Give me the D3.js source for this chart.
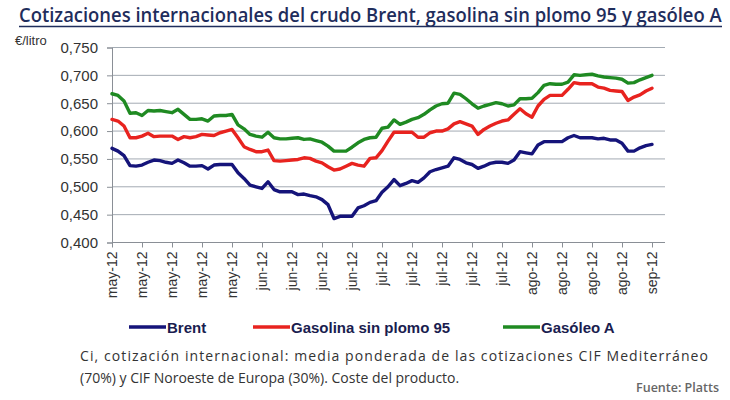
<!DOCTYPE html>
<html>
<head>
<meta charset="utf-8">
<script src="https://cdn.jsdelivr.net/npm/d3@7"></script>
<style>
  body { margin: 0; background: #fff; }
  svg { display: block; }
</style>
</head>
<body>
<div id="chart"></div>
<script>
// weekly tick labels (one tick every 5 trading days)
let tickLabels = ['may-12', 'may-12', 'may-12', 'may-12', 'may-12',
    'jun-12', 'jun-12', 'jun-12', 'jun-12',
    'jul-12', 'jul-12', 'jul-12', 'jul-12', 'jul-12',
    'ago-12', 'ago-12', 'ago-12', 'ago-12', 'sep-12'];

let seriesNames = ['Brent', 'Gasolina sin plomo 95', 'Gasóleo A'];

// €/litro, one value per trading day
let brent = [
    0.569, 0.564, 0.556, 0.538, 0.537, 0.539, 0.544, 0.548, 0.547, 0.544,
    0.542, 0.548, 0.543, 0.537, 0.537, 0.538, 0.532, 0.539, 0.540, 0.540,
    0.540, 0.525, 0.515, 0.503, 0.500, 0.497, 0.509, 0.495, 0.491, 0.491,
    0.491, 0.486, 0.487, 0.484, 0.482, 0.477, 0.468, 0.443, 0.447, 0.447,
    0.447, 0.462, 0.466, 0.472, 0.475, 0.490, 0.500, 0.513, 0.502, 0.506,
    0.511, 0.508, 0.516, 0.527, 0.531, 0.534, 0.537, 0.552, 0.549, 0.543,
    0.540, 0.533, 0.537, 0.542, 0.544, 0.544, 0.542, 0.548, 0.563, 0.561,
    0.559, 0.575, 0.581, 0.581, 0.581, 0.581, 0.588, 0.592, 0.588, 0.588,
    0.588, 0.586, 0.587, 0.584, 0.584, 0.578, 0.564, 0.564, 0.570, 0.574,
    0.576
];
let gasolina = [
    0.621, 0.618, 0.609, 0.588, 0.588, 0.591, 0.596, 0.590, 0.591, 0.591,
    0.591, 0.585, 0.590, 0.588, 0.590, 0.594, 0.593, 0.592, 0.597, 0.600,
    0.603, 0.588, 0.572, 0.567, 0.563, 0.563, 0.566, 0.547, 0.546, 0.547,
    0.548, 0.549, 0.552, 0.551, 0.546, 0.543, 0.536, 0.530, 0.532, 0.537,
    0.542, 0.539, 0.537, 0.551, 0.552, 0.565, 0.582, 0.598, 0.598, 0.598,
    0.598, 0.589, 0.589, 0.597, 0.600, 0.600, 0.604, 0.613, 0.617, 0.613,
    0.609, 0.594, 0.603, 0.609, 0.614, 0.618, 0.620, 0.630, 0.640, 0.631,
    0.625, 0.645, 0.657, 0.664, 0.664, 0.664, 0.675, 0.687, 0.685, 0.685,
    0.685, 0.679, 0.677, 0.673, 0.672, 0.671, 0.655, 0.661, 0.665, 0.672,
    0.677
];
let gasoleo = [
    0.667, 0.664, 0.654, 0.632, 0.633, 0.628, 0.637, 0.636, 0.637, 0.635,
    0.633, 0.639, 0.630, 0.621, 0.621, 0.622, 0.618, 0.627, 0.628, 0.628,
    0.630, 0.611, 0.604, 0.594, 0.591, 0.589, 0.598, 0.588, 0.586, 0.586,
    0.587, 0.588, 0.585, 0.586, 0.583, 0.580, 0.573, 0.564, 0.564, 0.564,
    0.571, 0.579, 0.585, 0.588, 0.589, 0.605, 0.607, 0.620, 0.612, 0.616,
    0.621, 0.624, 0.630, 0.638, 0.645, 0.649, 0.650, 0.668, 0.666, 0.658,
    0.649, 0.641, 0.645, 0.648, 0.651, 0.649, 0.645, 0.647, 0.658, 0.658,
    0.659, 0.669, 0.682, 0.685, 0.684, 0.684, 0.688, 0.701, 0.700, 0.701,
    0.702, 0.699, 0.697, 0.696, 0.695, 0.693, 0.686, 0.687, 0.692, 0.696,
    0.700
];
let yTicks = [0.40, 0.45, 0.50, 0.55, 0.60, 0.65, 0.70, 0.75];

let width = 730;
let height = 400;
let colors = ['#15147a', '#e8231f', '#1f8a22'];
let daysPerTick = 5;

let svg = d3.select('#chart')
    .append('svg')
    .attr('width', width)
    .attr('height', height);

// Title: squeeze horizontally so it spans 19..722 like the condensed original
let title = svg.append('text')
    .attr('x', 0)
    .attr('y', 0)
    .attr('font-family', 'Open Sans, sans-serif')
    .attr('font-weight', 600)
    .attr('font-size', 19)
    .attr('fill', '#1f2d5c')
    .text('Cotizaciones internacionales del crudo Brent, gasolina sin plomo 95 y gasóleo A');
let titleW = title.node().getComputedTextLength();
title.attr('transform', 'translate(19,22) scale(' + Math.min(1, 703 / titleW) + ',1)');

svg.append('line')
    .attr('x1', 19).attr('x2', 722)
    .attr('y1', 26.5).attr('y2', 26.5)
    .attr('stroke', '#1f2d5c')
    .attr('stroke-width', 1.3);

// Scales
let xScale = d3.scaleLinear()
    .domain([0, (tickLabels.length - 1) * daysPerTick])
    .range([112, 652]);

let yScale = d3.scaleLinear()
    .domain([0.40, 0.75])
    .range([242.5, 47.5]);

let fmt = v => d3.format('.3f')(v).replace('.', ',');

// Gridlines
svg.append('g')
    .selectAll('line')
    .data(yTicks.slice(1))
    .enter()
    .append('line')
    .attr('x1', 112)
    .attr('x2', 665)
    .attr('y1', d => yScale(d))
    .attr('y2', d => yScale(d))
    .attr('stroke', '#a3abb3')
    .attr('stroke-width', 1);

// Y axis
let yAxis = d3.axisLeft(yScale)
    .tickValues(yTicks)
    .tickSize(5)
    .tickPadding(9)
    .tickFormat(fmt);

let gy = svg.append('g')
    .attr('transform', 'translate(112,0)')
    .call(yAxis);
gy.select('.domain').attr('stroke', '#8a8f96');
gy.selectAll('.tick line').attr('stroke', '#8a8f96');
gy.selectAll('text')
    .attr('font-family', 'Liberation Sans, Arial, sans-serif')
    .attr('font-size', 15)
    .attr('fill', '#333');

svg.append('text')
    .attr('x', 15)
    .attr('y', 45)
    .attr('font-family', 'Liberation Sans, Arial, sans-serif')
    .attr('font-size', 13)
    .attr('fill', '#333')
    .text('€/litro');

// X axis
let xAxis = d3.axisBottom(xScale)
    .tickValues(d3.range(tickLabels.length).map(i => i * daysPerTick))
    .tickSize(5)
    .tickSizeOuter(0)
    .tickFormat((d, i) => tickLabels[i]);

let gx = svg.append('g')
    .attr('transform', 'translate(0,' + yScale(0.40) + ')')
    .call(xAxis);
gx.select('.domain')
    .attr('d', 'M112,0H665')
    .attr('stroke', '#8a8f96');
gx.selectAll('.tick line').attr('stroke', '#8a8f96');
gx.selectAll('text')
    .attr('font-family', 'Liberation Sans, Arial, sans-serif')
    .attr('font-size', 14)
    .attr('fill', '#333')
    .attr('text-anchor', 'end')
    .attr('dy', '0.35em')
    .attr('transform', 'translate(0,3) rotate(-90)')
    .attr('x', -6)
    .attr('y', 0);

// Lines
let line = d3.line()
    .x((d, i) => xScale(i))
    .y(d => yScale(d));

let allSeries = [brent, gasolina, gasoleo];

svg.append('g')
    .selectAll('path')
    .data(allSeries)
    .enter()
    .append('path')
    .attr('d', d => line(d))
    .attr('fill', 'none')
    .attr('stroke', (d, i) => colors[i])
    .attr('stroke-width', 3.4)
    .attr('stroke-linejoin', 'round')
    .attr('stroke-linecap', 'round');

// Legend
let legendX = [129, 253, 503];
let legend = svg.append('g')
    .selectAll('g')
    .data(seriesNames)
    .enter()
    .append('g')
    .attr('transform', (d, i) => 'translate(' + legendX[i] + ',327)');

legend.append('line')
    .attr('x1', 0).attr('x2', 37)
    .attr('y1', 0).attr('y2', 0)
    .attr('stroke', (d, i) => colors[i])
    .attr('stroke-width', 3.4);

legend.append('text')
    .attr('x', 38)
    .attr('y', 5.5)
    .attr('font-family', 'Liberation Sans, Arial, sans-serif')
    .attr('font-weight', 'bold')
    .attr('font-size', 15)
    .attr('fill', '#1a1d4f')
    .text(d => d);

// Footnote
svg.append('text')
    .attr('x', 80)
    .attr('y', 361)
    .attr('textLength', 628)
    .attr('lengthAdjust', 'spacing')
    .attr('font-family', 'Open Sans, sans-serif')
    .attr('font-size', 14)
    .attr('fill', '#333')
    .text('Ci, cotización internacional: media ponderada de las cotizaciones CIF Mediterráneo');

svg.append('text')
    .attr('x', 80)
    .attr('y', 383)
    .attr('font-family', 'Open Sans, sans-serif')
    .attr('font-size', 14)
    .attr('fill', '#333')
    .text('(70%) y CIF Noroeste de Europa (30%). Coste del producto.');

svg.append('text')
    .attr('x', 719)
    .attr('y', 392)
    .attr('text-anchor', 'end')
    .attr('font-family', 'Open Sans, sans-serif')
    .attr('font-weight', 600)
    .attr('font-size', 12.5)
    .attr('fill', '#666')
    .text('Fuente: Platts');
</script>
</body>
</html>
